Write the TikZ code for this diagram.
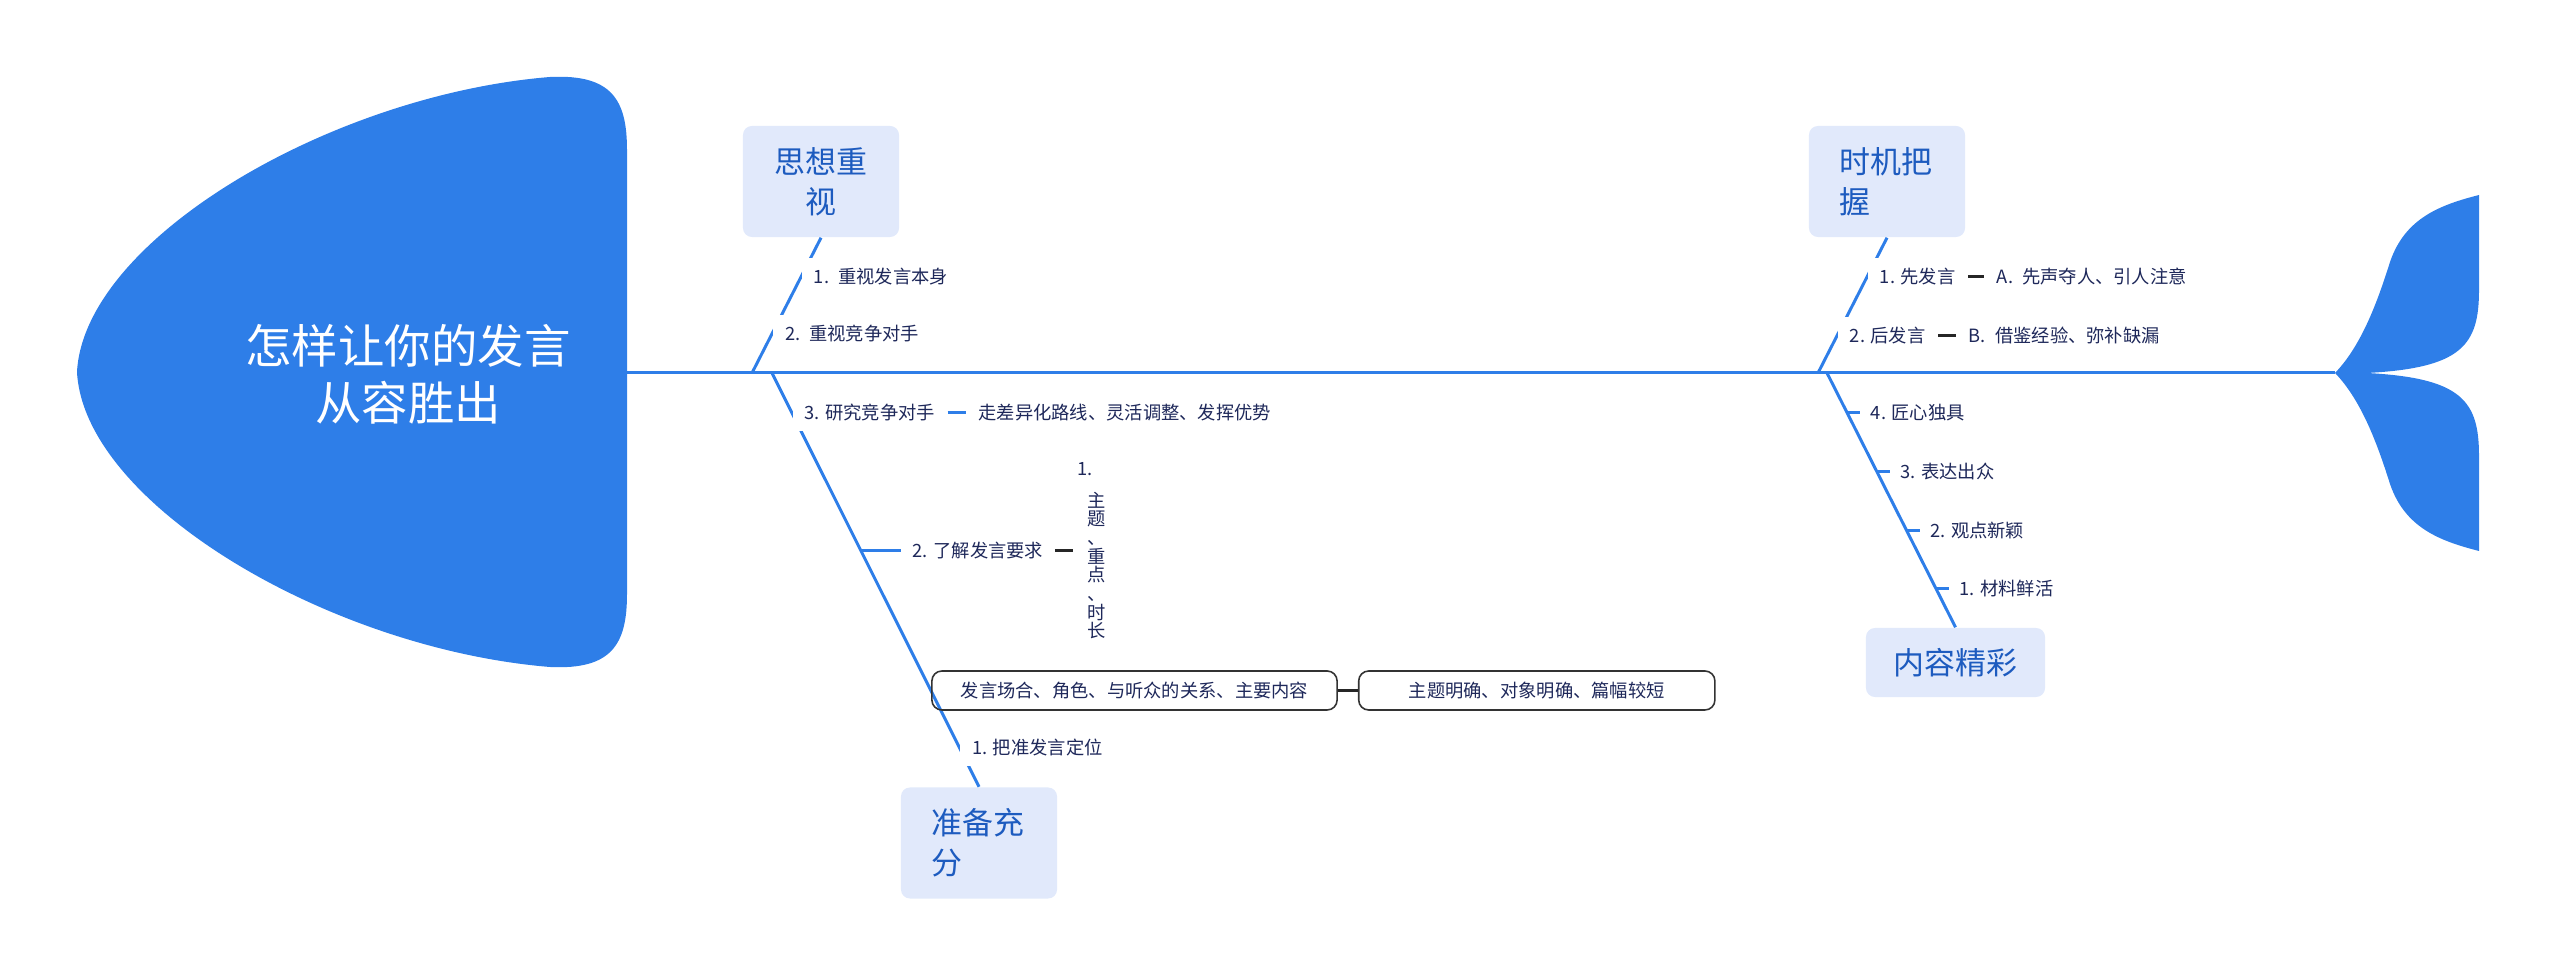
\documentclass[tikz,border=0pt]{standalone}
\usepackage{fontspec}
\setmainfont{Noto Sans CJK SC}
\usetikzlibrary{calc}
\definecolor{fishblue}{HTML}{2E7EE8}
\definecolor{boxfill}{HTML}{E1E9FB}
\definecolor{boxtext}{HTML}{1D5BBF}
\definecolor{labeltext}{HTML}{1E285A}
\begin{document}
\begin{tikzpicture}[x=0.01cm, y=-0.01cm,
  bone/.style={fishblue, line width=0.85pt},
  dashline/.style={black!85, line width=0.9pt},
  topic/.style={fill=boxfill, rounded corners=0.09cm, minimum width=1.56cm,
    minimum height=1.11cm, text=boxtext, inner sep=0pt,
    font=\fontsize{8.8}{11.4}\selectfont},
  cause/.style={fill=white, anchor=west, text=labeltext, inner xsep=0.12cm,
    inner ysep=0.1cm, font=\fontsize{5.2}{6.2}\selectfont},
  detail/.style={draw=black!80, line width=0.45pt, rounded corners=0.1cm,
    text=labeltext, minimum height=0.39cm, inner sep=0pt,
    font=\fontsize{5.2}{6.2}\selectfont}]
  \useasboundingbox (0,0) rectangle (2560,977);
  % Head of the fish
  \fill[fishblue] (77,372) .. controls (84,240) and (330,95) .. (550,77)
    .. controls (612,74) and (627,100) .. (627,150) -- (627,594)
    .. controls (627,644) and (612,670) .. (550,667)
    .. controls (330,649) and (84,504) .. (77,372) -- cycle;
  \node[text=white, align=center, font=\fontsize{13.2}{16.2}\selectfont] (title) at (408,374)
    {怎样让你的发言\\从容胜出};
  % Tail fins
  \fill[fishblue] (2335,373) .. controls (2362,345) and (2378,300) .. (2390,262)
    .. controls (2405,218) and (2440,205) .. (2479,195) -- (2479,290)
    .. controls (2479,345) and (2462,368) .. (2367,373)
    .. controls (2462,378) and (2479,401) .. (2479,456) -- (2479,551)
    .. controls (2440,541) and (2405,528) .. (2390,484)
    .. controls (2378,446) and (2362,401) .. (2335,373) -- cycle;
  % Spine
  \coordinate (neck) at (627,373);
  \coordinate (tailjoin) at (2335,373);
  \draw[bone] (neck) -- (tailjoin);
  % Main topics
  \node[topic, align=center, text width=0.95cm] (mind) at (821,181.5) {思想重\\视};
  \node[topic, align=left, text width=0.95cm] (timing) at (1887,181.5) {时机把\\握};
  \node[topic, align=left, text width=0.95cm] (prep) at (979,843) {准备充\\分};
  \node[topic, minimum width=1.79cm, minimum height=0.69cm] (content) at (1955.5,662.5) {内容精彩};
  % Bones
  \coordinate (sp1) at (752,373);
  \coordinate (sp2) at (772,373);
  \coordinate (sp3) at (1818,373);
  \coordinate (sp4) at (1827,373);
  \draw[bone] (sp1) -- (mind.south);
  \draw[bone] (sp2) -- (prep.north);
  \draw[bone] (sp3) -- (timing.south);
  \draw[bone] (sp4) -- (content.north);
  % Upper left bone
  \node[cause] (m1) at ($(sp1)!0.713!(mind.south)$) {1.\enspace 重视发言本身};
  \node[cause] (m2) at ($(sp1)!0.294!(mind.south)$) {2.\enspace 重视竞争对手};
  % Lower left bone
  \node[cause] (p3) at ($(sp2)!0.096!(prep.north)$) {3. 研究竞争对手};
  \node[cause] (p3a) at ([xshift=0.18cm]p3.east) {走差异化路线、灵活调整、发挥优势};
  \draw[bone] (p3.east) -- (p3a.west);
  \coordinate (p2b) at ($(sp2)!0.430!(prep.north)$);
  \node[cause, inner xsep=0.11cm] (p2) at ([xshift=0.4cm]p2b) {2. 了解发言要求};
  \draw[bone] (p2b) -- (p2.west);
  \node[anchor=west, align=left, text=labeltext, inner xsep=0.04cm, inner ysep=0pt,
    font=\fontsize{5.2}{5.3}\selectfont] (p2a) at ([xshift=0.18cm]p2.east)
    {1.\\[0.13cm]\hspace*{0.1cm}主\\\hspace*{0.1cm}题\\\hspace*{0.1cm}、\\\hspace*{0.1cm}重\\
     \hspace*{0.1cm}点\\\hspace*{0.1cm}、\\\hspace*{0.1cm}时\\\hspace*{0.1cm}长};
  \draw[dashline] (p2.east) -- (p2a.west);
  \node[detail, minimum width=4.05cm] (d1) at (1134.5,690.5) {发言场合、角色、与听众的关系、主要内容};
  \node[detail, minimum width=3.56cm, anchor=west] (d2) at ([xshift=0.2cm]d1.east) {主题明确、对象明确、篇幅较短};
  \draw[dashline] (d1.east) -- (d2.west);
  \node[cause] (p1) at ($(sp2)!0.906!(prep.north)$) {1. 把准发言定位};
  % Upper right bone
  \node[cause] (t1) at ($(sp3)!0.713!(timing.south)$) {1. 先发言};
  \node[cause] (t1a) at ([xshift=0.16cm]t1.east) {A.\enspace 先声夺人、引人注意};
  \draw[dashline] (t1.east) -- (t1a.west);
  \node[cause] (t2) at ($(sp3)!0.279!(timing.south)$) {2. 后发言};
  \node[cause] (t2a) at ([xshift=0.18cm]t2.east) {B.\enspace 借鉴经验、弥补缺漏};
  \draw[dashline] (t2.east) -- (t2a.west);
  % Lower right bone
  \foreach \t/\txt [count=\i] in {0.157/4. 匠心独具, 0.388/3. 表达出众, 0.620/2. 观点新颖, 0.847/1. 材料鲜活} {
    \coordinate (c\i) at ($(sp4)!\t!(content.north)$);
    \node[cause, inner xsep=0.1cm] (cl\i) at ([xshift=0.13cm]c\i) {\txt};
    \draw[bone] (c\i) -- (cl\i.west);
  }
\end{tikzpicture}
\end{document}
